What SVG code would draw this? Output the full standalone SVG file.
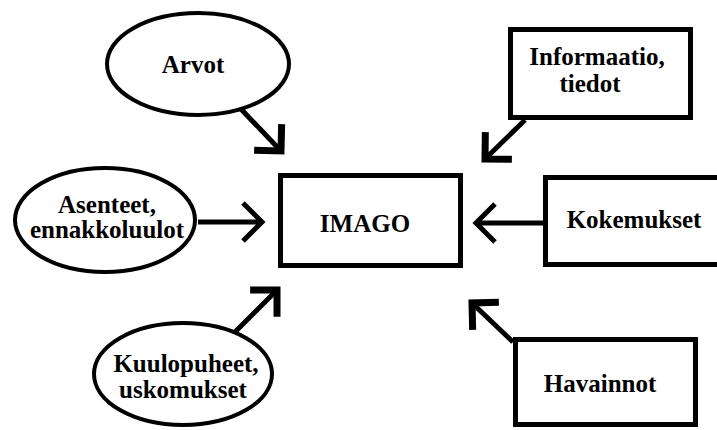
<svg xmlns="http://www.w3.org/2000/svg" width="717" height="430" viewBox="0 0 717 430">
  <style>
    .shape { fill: #fff; stroke: #000; }
    .oval { stroke-width: 4; }
    .box { stroke-width: 5; }
    .label { font-family: "Liberation Serif", "Times New Roman", serif; font-weight: bold; font-size: 25px; fill: #000; text-anchor: middle; }
    .link { fill: none; stroke: #000; stroke-width: 5; }
  </style>
  <defs>
    <marker id="head" markerUnits="userSpaceOnUse" viewBox="-30 -30 40 60" refX="0" refY="0" markerWidth="40" markerHeight="60" orient="auto" overflow="visible">
      <path d="M-19,-19 L0,0 L-19,19" fill="none" stroke="#000" stroke-width="5" stroke-linejoin="miter"/>
    </marker>
    <marker id="head-bold" markerUnits="userSpaceOnUse" viewBox="-30 -30 40 60" refX="0" refY="0" markerWidth="40" markerHeight="60" orient="auto" overflow="visible">
      <path d="M-19,-19 L0,0 L-19,19" fill="none" stroke="#000" stroke-width="7" stroke-linejoin="miter"/>
    </marker>
  </defs>

  <rect width="717" height="430" fill="#fff"/>

  <g id="connectors">
    <line class="link" x1="240" y1="108" x2="281" y2="151" marker-end="url(#head-bold)"/>
    <line class="link" x1="198" y1="222" x2="262" y2="222" marker-end="url(#head)"/>
    <line class="link" x1="235" y1="332" x2="277" y2="290" marker-end="url(#head-bold)"/>
    <line class="link" x1="525" y1="120" x2="485" y2="159" marker-end="url(#head-bold)"/>
    <line class="link" x1="543" y1="223" x2="476" y2="223" marker-end="url(#head)"/>
    <line class="link" x1="513" y1="342" x2="472" y2="303" marker-end="url(#head-bold)"/>
  </g>

  <g id="imago">
    <rect class="shape box" x="280.5" y="175.5" width="180" height="90"/>
    <text class="label" x="365" y="232">IMAGO</text>
  </g>

  <g id="arvot">
    <ellipse class="shape oval" cx="198" cy="64" rx="91" ry="51"/>
    <text class="label" x="193" y="73">Arvot</text>
  </g>

  <g id="asenteet">
    <ellipse class="shape oval" cx="105" cy="220" rx="90" ry="52"/>
    <text class="label" x="107" y="213">Asenteet,</text>
    <text class="label" x="107" y="238">ennakkoluulot</text>
  </g>

  <g id="kuulopuheet">
    <ellipse class="shape oval" cx="183" cy="374" rx="89" ry="51"/>
    <text class="label" x="186" y="372">Kuulopuheet,</text>
    <text class="label" x="183" y="398">uskomukset</text>
  </g>

  <g id="informaatio">
    <rect class="shape box" x="510.5" y="29.5" width="180" height="88"/>
    <text class="label" x="597" y="65">Informaatio,</text>
    <text class="label" x="590" y="92">tiedot</text>
  </g>

  <g id="kokemukset">
    <rect class="shape box" x="545.5" y="177.5" width="200" height="87"/>
    <text class="label" x="634" y="228">Kokemukset</text>
  </g>

  <g id="havainnot">
    <rect class="shape box" x="515.5" y="339.5" width="180" height="85"/>
    <text class="label" x="600" y="392">Havainnot</text>
  </g>
</svg>
